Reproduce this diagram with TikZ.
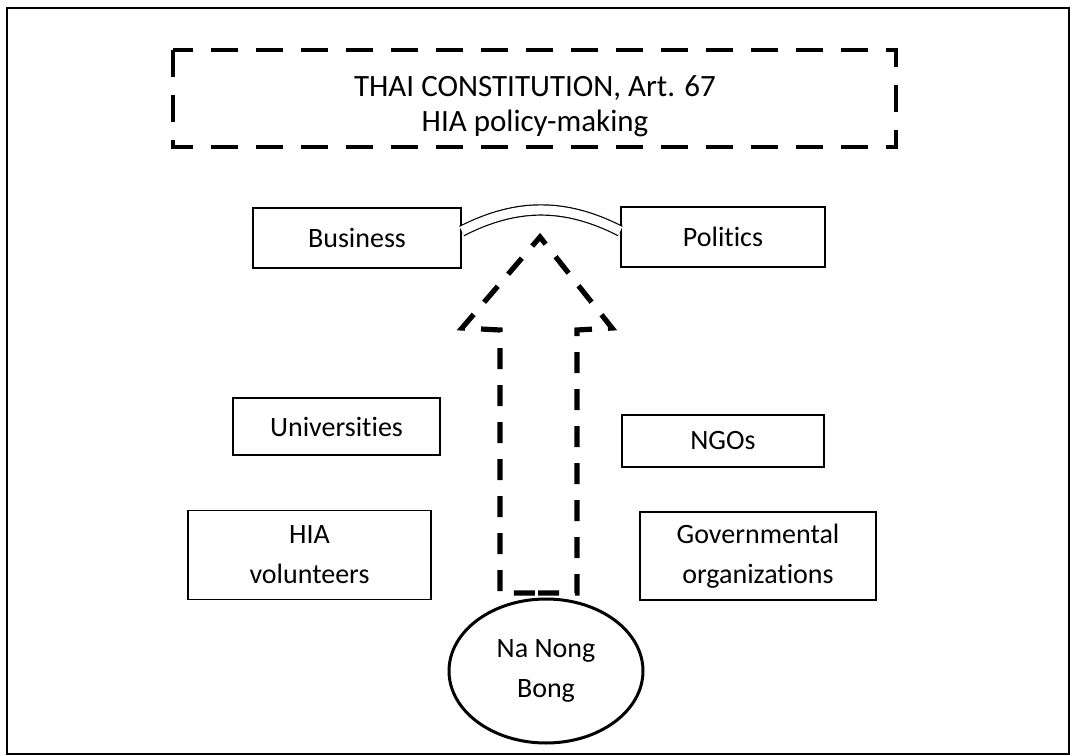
\documentclass[tikz,border=0pt]{standalone}
\usepackage{fontspec}
\setmainfont{Carlito}[Ligatures = NoCommon]
\usetikzlibrary{calc,shapes.geometric}
\tikzset{
  actor/.style = {draw, line width = 0.75pt, font = \fontsize{14}{20}\selectfont,
    align = center, inner sep = 0pt},
  village/.style = {draw, ellipse, line width = 1.5pt, font = \fontsize{14}{20}\selectfont,
    align = center, inner sep = 0pt, minimum width = 97pt, minimum height = 72pt},
  thickdash/.style = {line width = 2.6pt, dash pattern = on 10.5pt off 8pt}
}

\begin{document}
\begin{tikzpicture}[x = 0.5pt, y = -0.5pt]
  \useasboundingbox (0, 0) rectangle (1073, 756);
  \draw[line width = 1pt] (7, 8) rectangle (1069, 754);

  % constitution frame
  \draw[line width = 2.4pt, dash pattern = on 13.5pt off 9pt] (173, 50) rectangle (896, 147);
  \node[font = \fontsize{15.5}{17.5}\selectfont, align = center] (const) at (535, 106)
  {THAI CONSTITUTION, Art. 67\\HIA policy-making};

  % actors
  \node[actor, minimum width = 104pt, minimum height = 30pt] (business) at (357, 238) {Business};
  \node[actor, minimum width = 102pt, minimum height = 30pt] (politics) at (723, 237) {Politics};
  \node[actor, minimum width = 103.5pt, minimum height = 28.5pt] (univ) at (336.5, 426.5) {Universities};
  \node[actor, minimum width = 101pt, minimum height = 26pt] (ngo) at (723, 441) {NGOs};
  \node[actor, minimum width = 121.5pt, minimum height = 44.5pt] (vol) at (309.5, 555) {HIA\\volunteers};
  \node[actor, minimum width = 118pt, minimum height = 44pt] (gov) at (758, 556) {Governmental\\organizations};
  \node[village] (nnb) at (546, 671) {Na Nong\\Bong};

  % tie between business and politics
  \draw[double, double distance = 4.5pt, line width = 0.6pt]
  ([yshift = 3.5pt]business.east) to[out = 27, in = 153] ([yshift = 3pt]politics.west);

  % upward arrow from the village
  \pgfmathsetmacro{\sL}{500}
  \pgfmathsetmacro{\sR}{577}
  \draw[thickdash] (538, 593) -- (\sR, 593) -- (\sR, 330) -- (612, 328)
  -- (540, 237) -- (462, 328) -- (\sL, 330) -- (\sL, 593) -- cycle;

\end{tikzpicture}
\end{document}
